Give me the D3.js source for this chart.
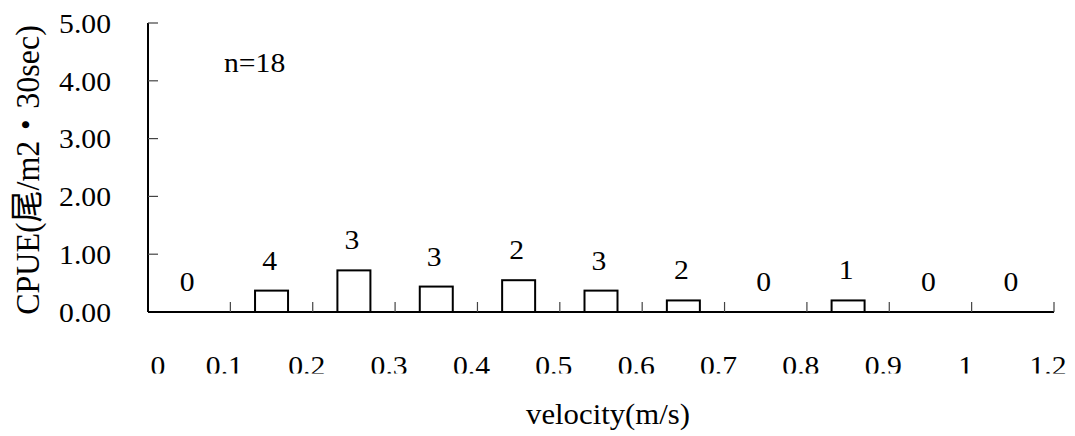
<!DOCTYPE html>
<html>
<head>
<meta charset="utf-8">
<script src="https://cdn.jsdelivr.net/npm/d3@7"></script>
<style>
  body { margin: 0; background: #fff; }
  text { font-family: "Liberation Serif", "Times New Roman", "Noto Sans CJK JP", serif; fill: #000; }
</style>
</head>
<body>
<div id="chart"></div>
<script>
// velocity bins (m/s) and mean CPUE per bin
var bins = ["0-0.1", "0.1-0.2", "0.2-0.3", "0.3-0.4", "0.4-0.5", "0.5-0.6",
            "0.6-0.7", "0.7-0.8", "0.8-0.9", "0.9-1.0", "1.0-1.2"];
var cpue = [0, 0.37, 0.72, 0.44, 0.55, 0.37, 0.2, 0, 0.2, 0, 0];
var counts = [0, 4, 3, 3, 2, 3, 2, 0, 1, 0, 0];
var xTickLabels = ["0", "0.1", "0.2", "0.3", "0.4", "0.5", "0.6", "0.7", "0.8", "0.9", "1", "1.2"];
var yTicks = [0, 1, 2, 3, 4, 5];

var W = 1075, H = 436;
var mLeft = 148, mRight = 1054, mTop = 23, mBottom = 312;
var sx = 1.06; // the original picture is a bit wider than tall

var svg = d3.select("#chart").append("svg")
    .attr("width", W)
    .attr("height", H);

var x = d3.scaleBand().domain(bins).range([mLeft, mRight]).paddingInner(0).paddingOuter(0);
var y = d3.scaleLinear().domain([0, 5]).range([mBottom, mTop]);
// tick labels sit a little left of the bin edges
var xl = d3.scalePoint().domain(xTickLabels).range([mLeft - 6, mRight - 6]);

function place(sel, px, py, rot) {
  sel.attr("transform", "translate(" + px + "," + py + ") scale(" + sx + ",1)" + (rot ? " rotate(" + rot + ")" : ""));
  return sel;
}

// bars
svg.selectAll("rect.bar")
  .data(bins)
  .enter().append("rect")
    .attr("class", "bar")
    .attr("x", function(d) { return x(d) + x.bandwidth() / 2 - 16.5; })
    .attr("width", 33)
    .attr("y", function(d, i) { return y(cpue[i]); })
    .attr("height", function(d, i) { return y(0) - y(cpue[i]); })
    .style("fill", "#fff")
    .style("stroke", "#000")
    .style("stroke-width", 2);

// y axis
var yAxis = svg.append("g");
yAxis.append("line")
  .attr("x1", mLeft).attr("x2", mLeft).attr("y1", y(5)).attr("y2", y(0))
  .style("stroke", "#000").style("stroke-width", 2);
yAxis.selectAll("line.tick")
  .data(yTicks)
  .enter().append("line")
    .attr("class", "tick")
    .attr("x1", mLeft).attr("x2", mLeft + 10)
    .attr("y1", function(d) { return y(d); })
    .attr("y2", function(d) { return y(d); })
    .style("stroke", "#444").style("stroke-width", 1.2);
yAxis.selectAll("text")
  .data(yTicks)
  .enter().append("text")
    .attr("text-anchor", "end")
    .attr("dy", "0.35em")
    .style("font-size", "28px")
    .text(function(d) { return d3.format(".2f")(d); })
    .each(function(d) { place(d3.select(this), 111, y(d)); });

// x axis
var xAxis = svg.append("g");
xAxis.append("line")
  .attr("x1", mLeft).attr("x2", mRight).attr("y1", y(0)).attr("y2", y(0))
  .style("stroke", "#000").style("stroke-width", 2);
xAxis.selectAll("line.tick")
  .data(bins)
  .enter().append("line")
    .attr("class", "tick")
    .attr("x1", function(d) { return x(d) + x.bandwidth(); })
    .attr("x2", function(d) { return x(d) + x.bandwidth(); })
    .attr("y1", y(0)).attr("y2", y(0) - 10)
    .style("stroke", "#444").style("stroke-width", 1.2);

svg.append("clipPath").attr("id", "xlclip")
  .append("rect").attr("x", 0).attr("y", 330).attr("width", W).attr("height", 43.5);
var xLab = svg.append("g").attr("clip-path", "url(#xlclip)");
xLab.selectAll("text")
  .data(xTickLabels)
  .enter().append("text")
    .attr("text-anchor", "middle")
    .style("font-size", "28px")
    .text(function(d) { return d; })
    .each(function(d, i) { place(d3.select(this), i === 0 ? mLeft + 10 : xl(d), 375); });

// count labels above bars
svg.selectAll("text.count")
  .data(bins)
  .enter().append("text")
    .attr("class", "count")
    .attr("text-anchor", "middle")
    .style("font-size", "28px")
    .text(function(d, i) { return counts[i]; })
    .each(function(d, i) { place(d3.select(this), x(d) + x.bandwidth() / 2 - 2, y(cpue[i]) - 21); });

// annotation and titles
place(svg.append("text")
  .attr("text-anchor", "start")
  .style("font-size", "28px")
  .text("n=18"), 224, 72);

place(svg.append("text")
  .attr("text-anchor", "middle")
  .style("font-size", "29px")
  .text("velocity(m/s)"), 608, 424);

place(svg.append("text")
  .attr("text-anchor", "middle")
  .style("font-size", "32px")
  .text("CPUE(尾/m2・30sec)"), 39, 170, -90);
</script>
</body>
</html>
